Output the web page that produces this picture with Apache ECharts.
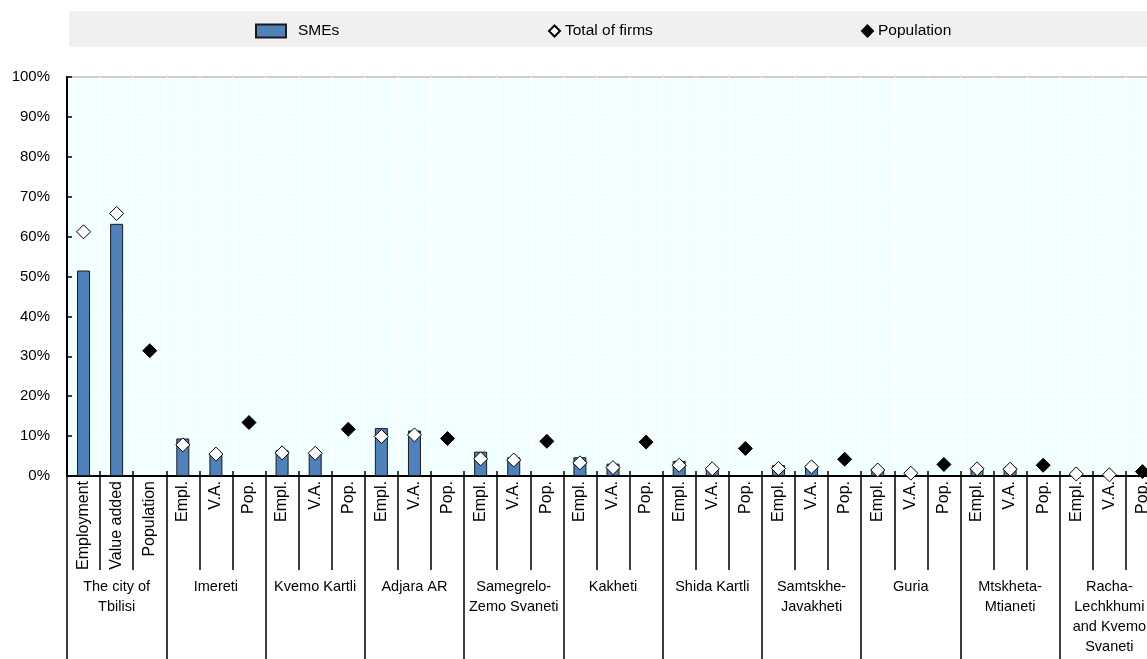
<!DOCTYPE html>
<html><head><meta charset="utf-8">
<script src="https://cdn.jsdelivr.net/npm/echarts@6/dist/echarts.min.js"></script>
<style>html,body{margin:0;padding:0;background:#fff}#c{width:1147px;height:659px}</style>
</head><body><div id="c"></div>
<script>
const regions = ['The city of\nTbilisi','Imereti','Kvemo Kartli','Adjara AR','Samegrelo-\nZemo Svaneti','Kakheti','Shida Kartli','Samtskhe-\nJavakheti','Guria','Mtskheta-\nMtianeti','Racha-\nLechkhumi\nand Kvemo\nSvaneti'];
const tickLabels = ['Employment','Value added','Population',
  'Empl.','V.A.','Pop.','Empl.','V.A.','Pop.','Empl.','V.A.','Pop.','Empl.','V.A.','Pop.',
  'Empl.','V.A.','Pop.','Empl.','V.A.','Pop.','Empl.','V.A.','Pop.','Empl.','V.A.','Pop.',
  'Empl.','V.A.','Pop.','Empl.','V.A.','Pop.'];
const yTicks = ['0%','10%','20%','30%','40%','50%','60%','70%','80%','90%','100%'];
const smeEmployment   = [51.5, 9.4, 6.5, 12.0, 6.1, 4.7, 3.8, 2.7, 1.9, 2.2, 0.3];
const smeValueAdded   = [63.2, 5.8, 5.5, 11.4, 4.7, 3.1, 2.0, 2.7, 0.5, 2.2, 0.2];
const totalEmployment = [61.2, 7.8, 5.8, 9.9, 4.3, 3.3, 2.7, 1.9, 1.5, 1.8, 0.5];
const totalValueAdded = [65.8, 5.5, 5.7, 10.3, 4.0, 2.1, 1.8, 2.3, 0.7, 1.7, 0.3];
const population      = [31.4, 13.4, 11.7, 9.4, 8.7, 8.5, 6.9, 4.2, 2.9, 2.7, 1.1];

const slots = tickLabels.map((t, i) => i + ':' + t);
const barData = [], totalData = [], popData = [];
regions.forEach((r, i) => {
  barData.push(smeEmployment[i], smeValueAdded[i], '-');
  totalData.push(totalEmployment[i], totalValueAdded[i], '-');
  popData.push('-', '-', population[i]);
});

const SANS = "'Liberation Sans',Arial,sans-serif";

const chart = echarts.init(document.getElementById('c'), null, {renderer: 'canvas'});
chart.setOption({
  animation: false,
  graphic: [{type: 'rect', z: -1, shape: {x: 69, y: 11, width: 1100, height: 36}, style: {fill: '#F0F0F0'}}],
  legend: [
    {data: ['SMEs'], left: 250, top: 18, itemWidth: 30, itemHeight: 13, icon: 'rect', selectedMode: false,
     textStyle: {fontFamily: SANS, fontSize: 15.5, color: '#000', padding: [0, 0, 0, 7]}},
    {data: ['Total of firms'], left: 543, top: 18, itemWidth: 11, itemHeight: 11, selectedMode: false,
     textStyle: {fontFamily: SANS, fontSize: 15.5, color: '#000'}},
    {data: ['Population'], left: 856, top: 18, itemWidth: 11, itemHeight: 11, selectedMode: false,
     textStyle: {fontFamily: SANS, fontSize: 15.5, color: '#000'}}
  ],
  grid: {left: 67, top: 77, width: 1092, height: 399, outerBoundsMode: 'none', containLabel: false,
    show: true, backgroundColor: '#F2FFFF', borderColor: '#000', borderWidth: 1.5},
  xAxis: [
    {type: 'category', data: slots, position: 'bottom', boundaryGap: true,
     axisLine: {show: true, lineStyle: {color: '#000', width: 2}},
     axisTick: {show: true, interval: 0, length: 94, lineStyle: {color: '#000', width: 1.5}},
     axisLabel: {interval: 0, rotate: 90, margin: 5, fontFamily: SANS, fontSize: 16, color: '#000',
       formatter: (v, i) => tickLabels[i]},
     splitLine: {show: true, interval: 0, lineStyle: {color: '#fff', width: 1.5}}},
    {type: 'category', data: regions, position: 'bottom', boundaryGap: true,
     axisLine: {show: false},
     axisTick: {show: true, interval: 0, length: 190, lineStyle: {color: '#000', width: 1.5}},
     axisLabel: {interval: 0, margin: 101, fontFamily: SANS, fontSize: 14.5, lineHeight: 20, color: '#000'},
     splitLine: {show: false}},
    {type: 'category', data: slots, position: 'bottom', boundaryGap: true,
     axisLine: {show: false},
     axisTick: {show: true, inside: true, interval: 0, length: 5, lineStyle: {color: '#000', width: 1.5}},
     axisLabel: {show: false}, splitLine: {show: false}}
  ],
  yAxis: {type: 'value', min: 0, max: 100, interval: 10,
    axisLine: {show: true, lineStyle: {color: '#000', width: 2}},
    axisTick: {show: true, inside: true, length: 5, lineStyle: {color: '#000', width: 1.5}},
    axisLabel: {fontFamily: SANS, fontSize: 15, color: '#000', margin: 17,
      formatter: (v) => yTicks[Math.round(v / 10)]},
    splitLine: {show: true, lineStyle: {color: '#fff', width: 1.5}}},
  series: [
    {name: 'SMEs', type: 'bar', data: barData, barWidth: 13, xAxisIndex: 0,
     itemStyle: {color: '#4F81BD', borderColor: '#1a1a1a', borderWidth: 1}},
    {name: 'Total of firms', type: 'scatter', data: totalData, symbol: 'diamond', symbolSize: 14, xAxisIndex: 0, z: 5,
     itemStyle: {color: '#fff', borderColor: '#000', borderWidth: 1, opacity: 1}},
    {name: 'Population', type: 'scatter', data: popData, symbol: 'diamond', symbolSize: 14, xAxisIndex: 0, z: 5,
     itemStyle: {color: '#000', borderColor: '#000', borderWidth: 1, opacity: 1}}
  ]
});
</script></body></html>
